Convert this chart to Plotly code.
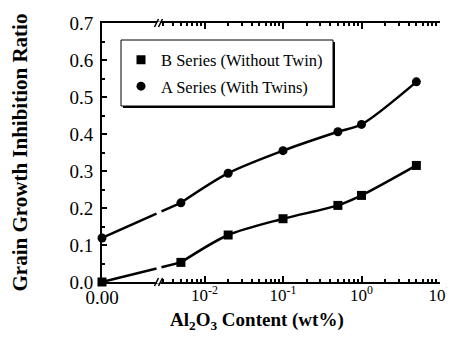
import math
import plotly.graph_objects as go

# ---- data ----
content_wt = [0.0, 0.005, 0.02, 0.1, 0.5, 1.0, 5.0]          # Al2O3 content (wt%)
b_series = [0.0, 0.053, 0.127, 0.171, 0.207, 0.234, 0.315]   # B Series (Without Twin)
a_series = [0.119, 0.214, 0.294, 0.355, 0.406, 0.426, 0.541]  # A Series (With Twins)
b_name = "B Series (Without Twin)"
a_name = "A Series (With Twins)"
log_tickvals = [0.01, 0.1, 1, 10]
log_ticktext = ["10<sup>-2</sup>", "10<sup>-1</sup>", "10<sup>0</sup>", "10<sup>1</sup>"]
y_tickvals = [0.0, 0.1, 0.2, 0.3, 0.4, 0.5, 0.6, 0.7]
x_title = "<b>Al<sub>2</sub>O<sub>3</sub> Content (wt%)</b>"
y_title = "<b>Grain Growth Inhibition Ratio</b>"

# ---- layout geometry (page body has an 8px default margin) ----
OFF = 8
W, H = 455 - OFF, 350 - OFF
P_L, P_R, P_T, P_B = 102, 440, 23, 282          # plot area in window pixels
ML, MT = P_L - OFF, P_T - OFF
MR, MB = W - (P_R - OFF), H - (P_B - OFF)
PW, PH = P_R - P_L, P_B - P_T
D = (159 - P_L) / PW   # fraction of width used by the linear "0" segment
LO, HI = -2.58, 1.0    # log10 range of the right segment
FONT = "Liberation Serif"

def paper_x_log(v):
    return D + (math.log10(v) - LO) / (HI - LO) * (1 - D)

def px_to_paper(xp, yp):
    return (xp - P_L) / PW, 1 - (yp - P_T) / PH

fig = go.Figure()

pos_x = [v for v in content_wt if v > 0]
for vals, sym, name in [(b_series, "square", b_name), (a_series, "circle", a_name)]:
    pos_y = [y for v, y in zip(content_wt, vals) if v > 0]
    zero_y = [y for v, y in zip(content_wt, vals) if v == 0]
    fig.add_trace(go.Scatter(x=pos_x, y=pos_y, xaxis="x2", yaxis="y", mode="lines",
                             line=dict(color="black", width=2.5, shape="spline", smoothing=0.8),
                             showlegend=False, hoverinfo="skip"))
    fig.add_trace(go.Scatter(x=pos_x, y=pos_y, xaxis="x2", yaxis="y", mode="markers",
                             marker=dict(symbol=sym, size=9, color="black"),
                             name=name, legendgroup=name, cliponaxis=False))
    fig.add_trace(go.Scatter(x=[0.0] * len(zero_y), y=zero_y, xaxis="x", yaxis="y", mode="markers",
                             marker=dict(symbol=sym, size=9, color="black"),
                             showlegend=False, cliponaxis=False))
    # connector across the axis break, with a gap at the break
    x0, y0 = 0.0, zero_y[0]
    x1, y1 = paper_x_log(pos_x[0]), pos_y[0]
    g = 2.5 / PW
    for a, b in [(x0, D - g), (D + g, x1)]:
        ya = y0 + (y1 - y0) * (a - x0) / (x1 - x0)
        yb = y0 + (y1 - y0) * (b - x0) / (x1 - x0)
        fig.add_shape(type="line", xref="paper", yref="y", x0=a, y0=ya, x1=b, y1=yb,
                      line=dict(color="black", width=2.5))

# break marks "//" on bottom and top axis lines
for py in [0, 1]:
    fig.add_shape(type="rect", xref="paper", yref="paper",
                  x0=D - 2 / PW, x1=D + 2 / PW, y0=py - 1.5 / PH, y1=py + 1.5 / PH,
                  fillcolor="white", line=dict(width=0))
    for off in [-2.5, 1.5]:
        fig.add_shape(type="line", xref="paper", yref="paper",
                      x0=D + (off - 2) / PW, y0=py - 4 / PH,
                      x1=D + (off + 2) / PW, y1=py + 4 / PH,
                      line=dict(color="black", width=1.5))

# legend box with drop shadow
lx0, ly0, lx1, ly1 = 121, 40, 333, 106
sx0, sy0 = px_to_paper(lx0 + 2, ly1 + 2)
sx1, sy1 = px_to_paper(lx1 + 2, ly0 + 2)
fig.add_shape(type="rect", xref="paper", yref="paper", x0=sx0, y0=sy0, x1=sx1, y1=sy1,
              fillcolor="black", line=dict(width=0), layer="above")
bx0, by0 = px_to_paper(lx0, ly1)
bx1, by1 = px_to_paper(lx1, ly0)
fig.add_shape(type="rect", xref="paper", yref="paper", x0=bx0, y0=by0, x1=bx1, y1=by1,
              fillcolor="white", line=dict(color="black", width=1), layer="above")

axis_common = dict(showline=True, linecolor="black", linewidth=2,
                   ticks="inside", tickcolor="black", showgrid=False, zeroline=False)

legx, legy = px_to_paper(lx0, (ly0 + ly1) / 2)
tx, ty = px_to_paper(257, 321)

fig.add_annotation(text=x_title, xref="paper", yref="paper", x=tx, y=ty,
                   xanchor="center", yanchor="middle", showarrow=False,
                   font=dict(size=19, family=FONT))

fig.update_layout(
    width=W, height=H,
    margin=dict(l=ML, r=MR, t=MT, b=MB, autoexpand=False),
    paper_bgcolor="white", plot_bgcolor="white",
    font=dict(family=FONT, color="black", size=19),
    xaxis=dict(domain=[0, D], range=[0, 1], tickvals=[0], ticktext=["0.00"],
               ticklen=5, tickwidth=1.5, anchor="y", mirror="ticks", ticklabelstandoff=-3,
               **axis_common),
    xaxis2=dict(domain=[D, 1], type="log", range=[LO, HI], tickvals=log_tickvals,
                ticktext=log_ticktext, ticklen=6, tickwidth=1.5, anchor="y", mirror="ticks",
                tickfont=dict(size=17), ticklabelstandoff=-3,
                minor=dict(ticks="inside", ticklen=3, tickcolor="black",
                           tickvals=[k * 10 ** e for e in [-3, -2, -1, 0] for k in range(2, 10)]),
                **axis_common),
    yaxis=dict(range=[0, 0.7], tickvals=y_tickvals, tickformat=".1f", ticklen=5, tickwidth=1.5,
               anchor="x", ticklabelstandoff=3,
               minor=dict(ticks="inside", ticklen=3, tickcolor="black", dtick=0.05),
               title=dict(text=y_title, font=dict(size=21), standoff=36),
               **axis_common),
    yaxis2=dict(range=[0, 0.7], overlaying="y", anchor="x2", side="right", showticklabels=False,
                tickvals=y_tickvals, ticklen=5, tickwidth=1.5,
                minor=dict(ticks="inside", ticklen=3, tickcolor="black", dtick=0.05),
                **axis_common),
    legend=dict(x=legx, y=legy, xanchor="left", yanchor="middle",
                bgcolor="rgba(0,0,0,0)", borderwidth=0,
                font=dict(size=16.5, family=FONT), traceorder="grouped", tracegroupgap=2),
    showlegend=True,
)

fig.write_html("out.html")
